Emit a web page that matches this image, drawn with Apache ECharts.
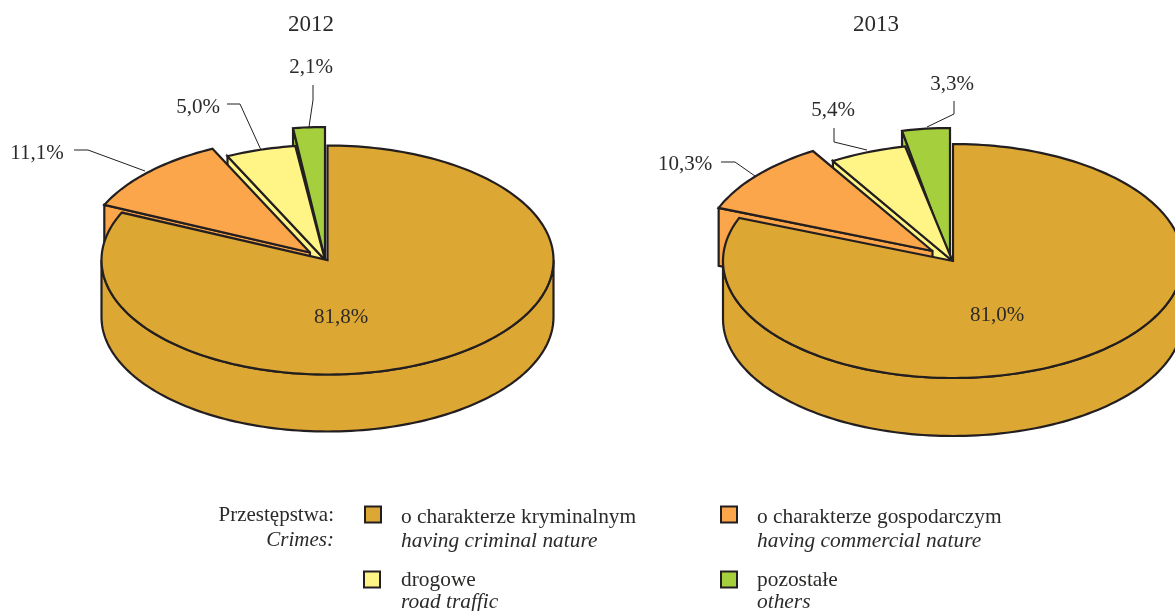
<!DOCTYPE html>
<html><head><meta charset="utf-8">
<style>html,body{margin:0;padding:0;background:#fff}#c{width:1175px;height:611px}</style>
<script src="https://cdn.jsdelivr.net/npm/echarts@6/dist/echarts.min.js"></script>
</head><body><div id="c"></div>
<script>
const years = ['2012', '2013'];
const categories = ['o charakterze kryminalnym', 'o charakterze gospodarczym', 'drogowe', 'pozostałe'];
const categoriesEn = ['having criminal nature', 'having commercial nature', 'road traffic', 'others'];
const values2012 = [81.8, 11.1, 5.0, 2.1];
const values2013 = [81.0, 10.3, 5.4, 3.3];
const legendHeading = ['Przestępstwa:', 'Crimes:'];

const colors = ['#DDA733', '#FBA64A', '#FFF587', '#A5CF3C'];
const ink = '#231F20';
const textInk = '#2B2A29';
const serif = '"Liberation Serif","Times New Roman",serif';
const FS = 21;
const LFS = 21.4;

// drawing layout: per year, per slice: exploded centre, radii, label placement, leader path
const layout = [
  { depth: 57, slices: [
    { c: [327.5, 260], r: [226, 114.5], label: [341, 317] },
    { c: [310, 252.5], r: [226, 115], label: [37, 153], leader: [[74,150],[88,150],[145,171]] },
    { c: [325, 260], r: [226, 115], label: [198, 107], leader: [[227,104],[240,104],[261,150]] },
    { c: [325, 259], r: [243, 132], label: [311, 67], leader: [[313,85],[313,100],[309,127]] }
  ]},
  { depth: 58, slices: [
    { c: [953, 261], r: [230, 117], label: [997, 315] },
    { c: [932.5, 251], r: [230, 117], label: [685, 164], leader: [[721,162],[735,162],[755,176]] },
    { c: [952.5, 261], r: [230, 117], label: [833, 110], leader: [[834,128],[834,142],[867,150]] },
    { c: [950, 260], r: [233, 132], label: [952, 84], leader: [[954,101],[954,114],[927,127]] }
  ]}
];
const allValues = [values2012, values2013];

function pt(s, deg, dy) {
  const t = deg * Math.PI / 180;
  return [s.c[0] + s.r[0] * Math.sin(t), s.c[1] - s.r[1] * Math.cos(t) + (dy || 0)];
}
function arc(s, a, b, dy) {
  const n = Math.max(2, Math.ceil(Math.abs(b - a) / 1.5)), out = [];
  for (let i = 0; i <= n; i++) out.push(pt(s, a + (b - a) * i / n, dy));
  return out;
}
function poly(points, fill, z2) {
  return { type: 'polygon', z2: z2 || 0, silent: true,
    shape: { points },
    style: { fill, stroke: ink, lineWidth: 2.2, lineJoin: 'miter', miterLimit: 3 } };
}
function makeRender(y, i) {
  return function (params, api) {
    const vals = allValues[y], total = vals.reduce((a, b) => a + b, 0);
    const start = vals.slice(0, i).reduce((a, b) => a + b, 0) / total * 360;
    const end = start + api.value(0) / total * 360;
    const L = layout[y], s = L.slices[i], d = L.depth, col = colors[i], kids = [];
    if (i === 0) {
      // visible outer wall of the big slice
      kids.push(poly(arc(s, 90, 270, 0).concat(arc(s, 270, 90, d)), col));
    } else {
      // cut face seen below the leading edge of the pulled-out slice
      const p = pt(s, start);
      kids.push(poly([p, [p[0], p[1] + d], [s.c[0], s.c[1] + d], s.c], col));
    }
    kids.push(poly([s.c].concat(arc(s, start, end)), col, 1));
    if (s.leader) kids.push({ type: 'polyline', z2: 5, silent: true, shape: { points: s.leader },
      style: { fill: null, stroke: ink, lineWidth: 1 } });
    kids.push({ type: 'text', z2: 6, silent: true, x: s.label[0], y: s.label[1],
      style: { text: api.value(0).toFixed(1).replace('.', ',') + '%', fill: textInk,
        font: FS + 'px ' + serif, textAlign: 'center', textVerticalAlign: 'middle' } });
    return { type: 'group', children: kids };
  };
}

const series = [];
years.forEach((yr, y) => {
  [3, 2, 1, 0].forEach(i => {
    series.push({
      type: 'custom', name: categories[i], coordinateSystem: 'none', silent: true,
      itemStyle: { color: colors[i], borderColor: ink, borderWidth: 2 },
      renderItem: makeRender(y, i),
      data: [allValues[y][i]], animation: false
    });
  });
});

const legendPos = [[364, 505.5], [720, 505.5], [363, 569.5], [720, 569.5]];
const legendPad = [[5, 0, 0, 15], [5, 0, 0, 15], [1, 0, 0, 16], [1, 0, 0, 15]];
const enPos = [[401, 541], [757, 541], [401, 602], [757, 602]];

const option = {
  animation: false,
  backgroundColor: '#fff',
  title: [
    { text: years[0], left: 306, top: 8, textAlign: 'center', textStyle: { fontFamily: serif, fontSize: 23, fontWeight: 'normal', color: textInk } },
    { text: years[1], left: 871, top: 8, textAlign: 'center', textStyle: { fontFamily: serif, fontSize: 23, fontWeight: 'normal', color: textInk } }
  ],
  legend: categories.map((c, i) => ({
    data: [{ name: c, icon: 'rect' }],
    left: legendPos[i][0], top: legendPos[i][1], padding: 0,
    itemWidth: 16, itemHeight: 16, selectedMode: false,
    itemStyle: { borderColor: ink, borderWidth: 2 },
    formatter: n => '{a|' + n + '}',
    textStyle: { rich: { a: { fontFamily: serif, fontSize: LFS, color: textInk, padding: legendPad[i] } } }
  })),
  graphic: [
    { type: 'text', x: 334, y: 515, style: { text: legendHeading[0], font: FS + 'px ' + serif, fill: textInk, textAlign: 'right', textVerticalAlign: 'middle' } },
    { type: 'text', x: 334, y: 540, style: { text: legendHeading[1], font: 'italic ' + FS + 'px ' + serif, fill: textInk, textAlign: 'right', textVerticalAlign: 'middle' } }
  ].concat(categoriesEn.map((t, i) => ({
    type: 'text', x: enPos[i][0], y: enPos[i][1],
    style: { text: t, font: 'italic ' + LFS + 'px ' + serif, fill: textInk, textAlign: 'left', textVerticalAlign: 'middle' }
  }))),
  series
};
echarts.init(document.getElementById('c'), null, { renderer: 'canvas' }).setOption(option);
</script></body></html>
